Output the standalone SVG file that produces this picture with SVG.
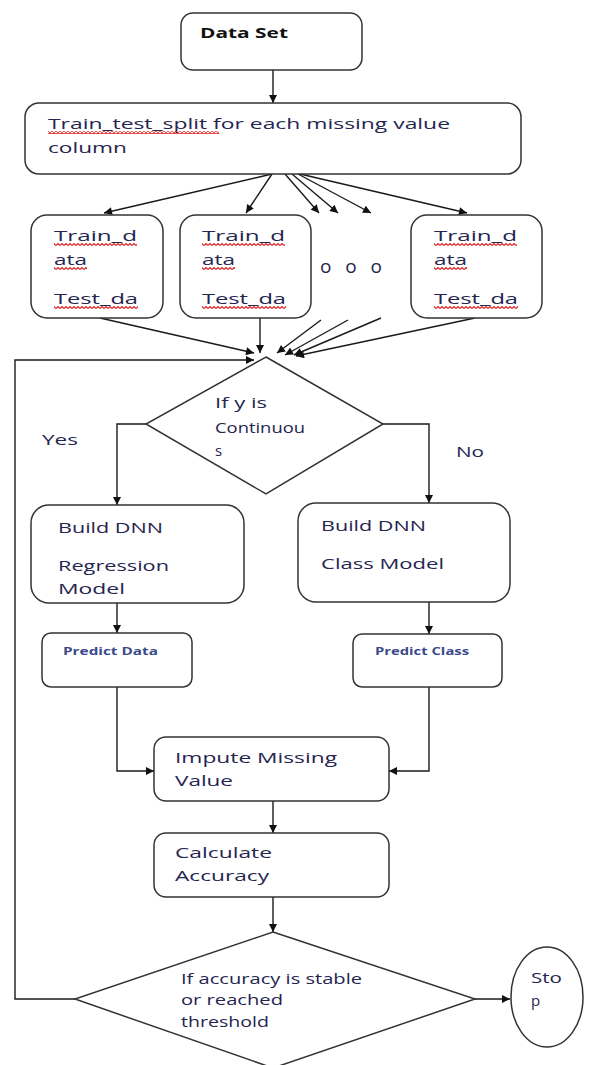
<svg xmlns="http://www.w3.org/2000/svg" width="601" height="1065" viewBox="0 0 601 1065">
<defs>
<marker id="ah" viewBox="0 0 10 10" refX="10" refY="5" markerWidth="9" markerHeight="8" markerUnits="userSpaceOnUse" orient="auto">
<path d="M0,0 L10,5 L0,10 z" fill="#111"/>
</marker>
<pattern id="wave" x="0" y="0" width="4" height="3" patternUnits="userSpaceOnUse">
<path d="M0,2.5 L2,0.5 L4,2.5" fill="none" stroke="#e02020" stroke-width="1.1"/>
</pattern>
<style>
.box{fill:#fff;stroke:#333;stroke-width:1.5}
.ln{fill:none;stroke:#1a1a1a;stroke-width:1.4}
.arr{fill:none;stroke:#1a1a1a;stroke-width:1.4;marker-end:url(#ah)}
.t{font-family:"Open Sans","Liberation Sans",sans-serif;font-size:15px;fill:#25254f}
.b{font-weight:bold;fill:#111}
.s{font-size:10px;font-weight:bold;fill:#3a4a8a}
.sq{fill:url(#wave)}
</style>
</defs>
<rect width="601" height="1065" fill="#fff"/>

<g id="connectors">
<line class="arr" x1="273" y1="70" x2="273" y2="103"/>
<line class="arr" x1="272" y1="174" x2="104" y2="213"/>
<line class="arr" x1="272" y1="174" x2="246" y2="213"/>
<line class="arr" x1="285" y1="174" x2="319" y2="213"/>
<line class="arr" x1="292" y1="174" x2="338" y2="213"/>
<line class="arr" x1="298" y1="174" x2="371" y2="213"/>
<line class="arr" x1="300" y1="174" x2="467" y2="213"/>
<line class="arr" x1="100" y1="318" x2="254" y2="353"/>
<line class="arr" x1="260" y1="318" x2="260" y2="353"/>
<line class="arr" x1="321" y1="320" x2="277" y2="353"/>
<line class="arr" x1="348" y1="320" x2="285" y2="355"/>
<line class="arr" x1="381" y1="318" x2="294" y2="355"/>
<line class="arr" x1="475" y1="318" x2="296" y2="356"/>
<polyline class="arr" points="75,999 15,999 15,360 254,360"/>
<polyline class="arr" points="146,424 117,424 117,505"/>
<polyline class="arr" points="383,424 429,424 429,503"/>
<line class="arr" x1="117" y1="603" x2="117" y2="633"/>
<line class="arr" x1="429" y1="602" x2="429" y2="634"/>
<polyline class="arr" points="117,687 117,771 154,771"/>
<polyline class="arr" points="429,687 429,771 389,771"/>
<line class="arr" x1="273" y1="801" x2="273" y2="833"/>
<line class="arr" x1="273" y1="897" x2="273" y2="932"/>
<line class="arr" x1="475" y1="999" x2="510" y2="999"/>
</g>

<g id="dataset">
<rect class="box" x="181" y="13" width="181" height="57" rx="12"/>
<text class="t b" x="200" y="38" textLength="88" lengthAdjust="spacingAndGlyphs">Data Set</text>
</g>

<g id="split">
<rect class="box" x="25" y="103" width="496" height="71" rx="14"/>
<text class="t" x="48" y="129" textLength="402" lengthAdjust="spacingAndGlyphs">Train_test_split for each missing value</text>
<text class="t" x="48" y="153" textLength="79" lengthAdjust="spacingAndGlyphs">column</text>
<rect class="sq" x="48" y="131" width="171" height="3"/>
</g>

<g id="part1">
<rect class="box" x="31" y="215" width="132" height="103" rx="16"/>
<text class="t" x="54" y="241" textLength="83" lengthAdjust="spacingAndGlyphs">Train_d</text>
<text class="t" x="54" y="265" textLength="33" lengthAdjust="spacingAndGlyphs">ata</text>
<text class="t" x="54" y="304" textLength="84" lengthAdjust="spacingAndGlyphs">Test_da</text>
<rect class="sq" x="54" y="243" width="83" height="3"/>
<rect class="sq" x="54" y="267" width="33" height="3"/>
<rect class="sq" x="54" y="306" width="84" height="3"/>
</g>

<g id="part2">
<rect class="box" x="180" y="215" width="131" height="103" rx="16"/>
<text class="t" x="202" y="241" textLength="83" lengthAdjust="spacingAndGlyphs">Train_d</text>
<text class="t" x="202" y="265" textLength="33" lengthAdjust="spacingAndGlyphs">ata</text>
<text class="t" x="202" y="304" textLength="84" lengthAdjust="spacingAndGlyphs">Test_da</text>
<rect class="sq" x="202" y="243" width="83" height="3"/>
<rect class="sq" x="202" y="267" width="33" height="3"/>
<rect class="sq" x="202" y="306" width="84" height="3"/>
</g>

<g id="ellipsis">
<text class="t" x="320" y="273" style="font-size:19px" textLength="62" lengthAdjust="spacing">o o o</text>
</g>

<g id="partn">
<rect class="box" x="411" y="215" width="131" height="103" rx="16"/>
<text class="t" x="434" y="241" textLength="83" lengthAdjust="spacingAndGlyphs">Train_d</text>
<text class="t" x="434" y="265" textLength="33" lengthAdjust="spacingAndGlyphs">ata</text>
<text class="t" x="434" y="304" textLength="84" lengthAdjust="spacingAndGlyphs">Test_da</text>
<rect class="sq" x="434" y="243" width="83" height="3"/>
<rect class="sq" x="434" y="267" width="33" height="3"/>
<rect class="sq" x="434" y="306" width="84" height="3"/>
</g>

<g id="decision1">
<polygon class="box" points="266,357 383,424 266,494 146,424"/>
<text class="t" x="215" y="408" textLength="52" lengthAdjust="spacingAndGlyphs">If y is</text>
<text class="t" x="215" y="433" textLength="90" lengthAdjust="spacingAndGlyphs">Continuou</text>
<text class="t" x="215" y="456">s</text>
</g>

<text id="yes" class="t" x="42" y="445" textLength="36" lengthAdjust="spacingAndGlyphs">Yes</text>
<text id="no" class="t" x="456" y="457" textLength="28" lengthAdjust="spacingAndGlyphs">No</text>

<g id="regression">
<rect class="box" x="31" y="505" width="213" height="98" rx="18"/>
<text class="t" x="58" y="533" textLength="105" lengthAdjust="spacingAndGlyphs">Build DNN</text>
<text class="t" x="58" y="571" textLength="111" lengthAdjust="spacingAndGlyphs">Regression</text>
<text class="t" x="58" y="594" textLength="67" lengthAdjust="spacingAndGlyphs">Model</text>
</g>

<g id="classmodel">
<rect class="box" x="298" y="503" width="212" height="99" rx="18"/>
<text class="t" x="321" y="531" textLength="105" lengthAdjust="spacingAndGlyphs">Build DNN</text>
<text class="t" x="321" y="569" textLength="123" lengthAdjust="spacingAndGlyphs">Class Model</text>
</g>

<g id="predictdata">
<rect class="box" x="42" y="633" width="150" height="54" rx="9"/>
<text class="t s" x="63" y="655" textLength="95" lengthAdjust="spacingAndGlyphs">Predict Data</text>
</g>

<g id="predictclass">
<rect class="box" x="353" y="634" width="149" height="53" rx="9"/>
<text class="t s" x="375" y="655" textLength="94" lengthAdjust="spacingAndGlyphs">Predict Class</text>
</g>

<g id="impute">
<rect class="box" x="154" y="737" width="235" height="64" rx="12"/>
<text class="t" x="175" y="763" textLength="162" lengthAdjust="spacingAndGlyphs">Impute Missing</text>
<text class="t" x="175" y="786" textLength="58" lengthAdjust="spacingAndGlyphs">Value</text>
</g>

<g id="accuracy">
<rect class="box" x="154" y="833" width="235" height="64" rx="12"/>
<text class="t" x="175" y="858" textLength="97" lengthAdjust="spacingAndGlyphs">Calculate</text>
<text class="t" x="175" y="881" textLength="94" lengthAdjust="spacingAndGlyphs">Accuracy</text>
</g>

<g id="decision2">
<polygon class="box" points="273,932 475,999 273,1068 75,999"/>
<text class="t" x="181" y="984" textLength="181" lengthAdjust="spacingAndGlyphs">If accuracy is stable</text>
<text class="t" x="181" y="1005" textLength="102" lengthAdjust="spacingAndGlyphs">or reached</text>
<text class="t" x="181" y="1027" textLength="88" lengthAdjust="spacingAndGlyphs">threshold</text>
</g>

<g id="stop">
<ellipse class="box" cx="547" cy="997" rx="36" ry="50"/>
<text class="t" x="531" y="983" textLength="31" lengthAdjust="spacingAndGlyphs">Sto</text>
<text class="t" x="531" y="1006">p</text>
</g>
</svg>
